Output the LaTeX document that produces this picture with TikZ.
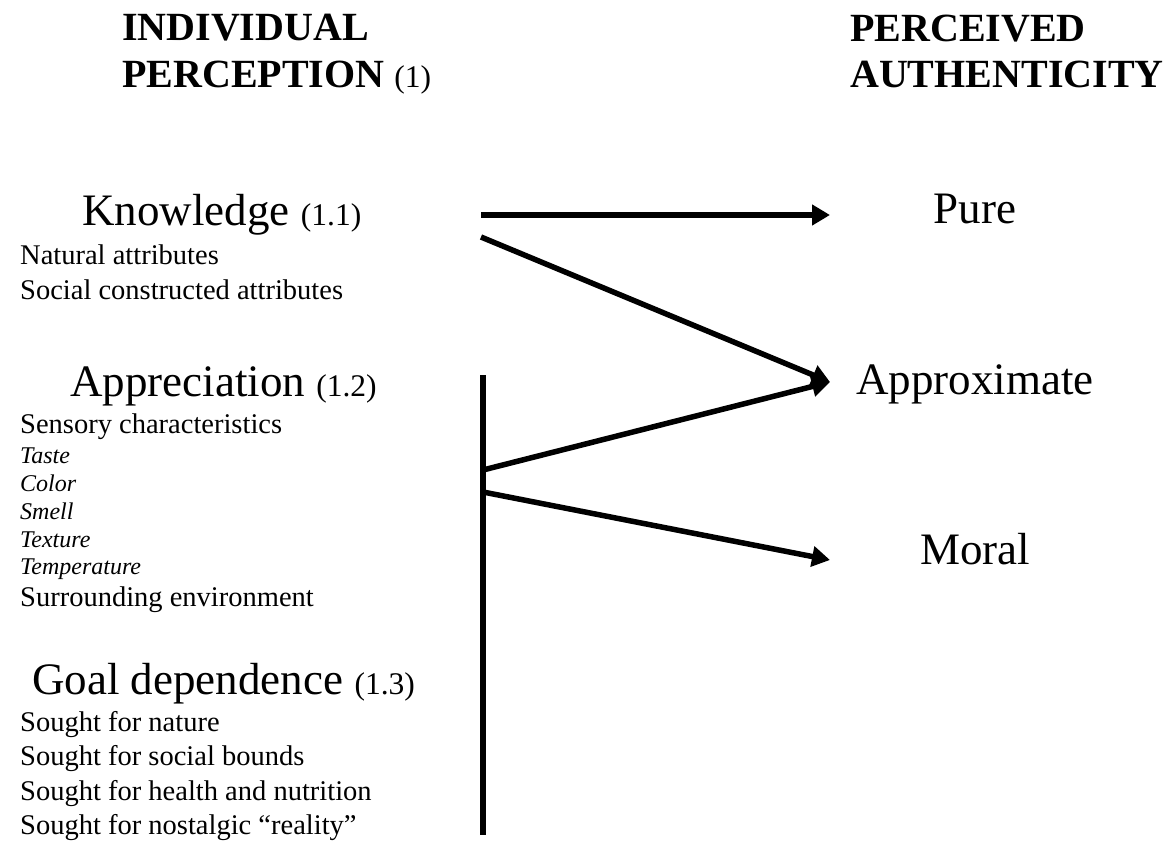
\documentclass[tikz,border=0pt]{standalone}
\usepackage{fontspec}
\setmainfont{Liberation Serif}
\usetikzlibrary{positioning, arrows.meta}
\newcommand{\tagno}[1]{{\fontsize{31.5}{35}\selectfont\mdseries #1}}

\begin{document}
\begin{tikzpicture}[x=1pt, y=-1pt,
        header/.style={font=\fontsize{40}{46}\selectfont\bfseries, anchor=base west, inner sep=0pt},
        factor/.style={font=\fontsize{45}{50}\selectfont, anchor=base west, inner sep=0pt},
        item/.style={font=\fontsize{28.5}{33}\selectfont, anchor=base west, inner sep=0pt},
        subitem/.style={font=\fontsize{24}{28}\selectfont\itshape, anchor=base west, inner sep=0pt},
        outcome/.style={font=\fontsize{45}{50}\selectfont, anchor=base, inner sep=0pt},
        bar/.style={line width=6pt},
        link/.style={line width=5.5pt, -{Triangle[length=18pt, width=20pt]}}]
        \useasboundingbox (0,0) rectangle (1170,842);
        % column headers
        \node[header] (hl1) at (122, 41) {INDIVIDUAL};
        \node[header] (hl2) at (122, 88) {PERCEPTION \tagno{(1)}};
        \node[header] (hr1) at (850, 42) {PERCEIVED};
        \node[header] (hr2) at (850, 88) {AUTHENTICITY};
        % individual perception
        \node[factor] (kn) at (82, 226) {Knowledge \tagno{(1.1)}};
        \node[item] (kn1) at (20, 265) {Natural attributes};
        \node[item] (kn2) at (20, 300) {Social constructed attributes};
        \node[factor] (ap) at (70, 396) {Appreciation \tagno{(1.2)}};
        \node[item] (ap1) at (20, 433) {Sensory characteristics};
        \node[subitem] (ap2) at (20, 463) {Taste};
        \node[subitem] (ap3) at (20, 491) {Color};
        \node[subitem] (ap4) at (20, 519) {Smell};
        \node[subitem] (ap5) at (20, 547) {Texture};
        \node[subitem] (ap6) at (20, 574) {Temperature};
        \node[item] (ap7) at (20, 606) {Surrounding environment};
        \node[factor] (gd) at (32, 694) {Goal dependence \tagno{(1.3)}};
        \node[item] (gd1) at (20, 731) {Sought for nature};
        \node[item] (gd2) at (20, 765) {Sought for social bounds};
        \node[item] (gd3) at (20, 800) {Sought for health and nutrition};
        \node[item] (gd4) at (20, 834) {Sought for nostalgic ``reality''};
        % perceived authenticity
        \node[outcome] (pure) at (975, 224) {Pure};
        \node[outcome] (approx) at (975, 394) {Approximate};
        \node[outcome] (moral) at (975, 564) {Moral};
        % connectors
        \coordinate (kn out) at (481, 215);
        \coordinate (kn out2) at (481, 237);
        \coordinate (bar top) at (483, 375);
        \coordinate (bar bot) at (483, 835);
        \coordinate (ap out) at (483, 470);
        \coordinate (ap out2) at (483, 492);
        \coordinate (pure in) at (830, 215);
        \coordinate (approx in) at (830, 382);
        \coordinate (moral in) at (830, 560);
        \draw[bar] (bar top) -- (bar bot);
        \draw[link] (kn out) -- (pure in);
        \draw[link] (kn out2) -- (approx in);
        \draw[link] (ap out) -- (approx in);
        \draw[link] (ap out2) -- (moral in);
      \end{tikzpicture}
\end{document}
